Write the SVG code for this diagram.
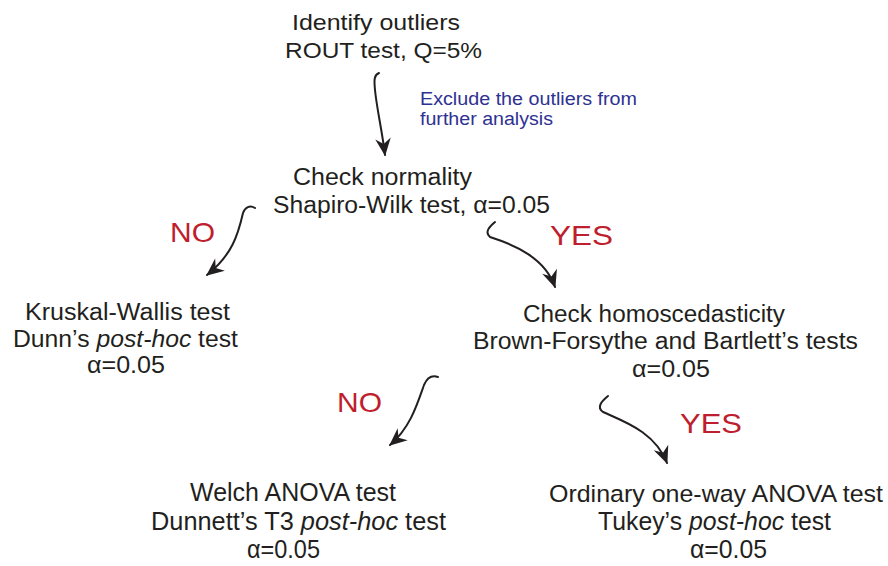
<svg xmlns="http://www.w3.org/2000/svg" width="888" height="566" viewBox="0 0 888 566">
<defs>
<style>
text{font-family:"Liberation Sans",Arial,sans-serif;fill:#231f20}
.n{font-size:22px}
.m{font-size:23px}
.b{font-size:26px}
.b2{font-size:24.5px}
.note{font-size:18px;fill:#2e3192}
.yn{font-size:28px;fill:#be1e2d}
.it{font-style:italic}
.c{fill:none;stroke:#231f20;stroke-width:2;stroke-linecap:round}
</style>
<marker id="ah" markerUnits="userSpaceOnUse" markerWidth="20" markerHeight="20" viewBox="-16 -8 18 16" refX="0" refY="0" orient="auto">
<path d="M1,0 L-15,-7 L-10,0 L-15,7 Z" fill="#231f20"/>
</marker>
</defs>
<rect width="888" height="566" fill="#fff"/>
<g id="connectors">
<path class="c" marker-end="url(#ah)" d="M379,73 C374,75 374,80 375,90 C377,110 382,130 385,155"/>
<path class="c" marker-end="url(#ah)" d="M255,208 C250,205 245,207 243,213 C238,235 232,255 207,275"/>
<path class="c" marker-end="url(#ah)" d="M495,222 C490,226 484,232 490,237 C515,245 545,258 555,287"/>
<path class="c" marker-end="url(#ah)" d="M438,377 C432,375 427,378 424,385 C417,405 410,428 390,445"/>
<path class="c" marker-end="url(#ah)" d="M608,396 C602,401 596,407 603,412 C625,422 655,432 667,463"/>
</g>
<g id="edge-labels">
<text class="note" x="420" y="105" textLength="217" lengthAdjust="spacingAndGlyphs">Exclude the outliers from</text>
<text class="note" x="420" y="125" textLength="133" lengthAdjust="spacingAndGlyphs">further analysis</text>
<text class="yn" x="170" y="242" textLength="45" lengthAdjust="spacingAndGlyphs">NO</text>
<text class="yn" x="550" y="245" textLength="63" lengthAdjust="spacingAndGlyphs">YES</text>
<text class="yn" x="337" y="412" textLength="45" lengthAdjust="spacingAndGlyphs">NO</text>
<text class="yn" x="680" y="433" textLength="62" lengthAdjust="spacingAndGlyphs">YES</text>
</g>
<g id="outliers">
<text class="n" x="292" y="30" textLength="168" lengthAdjust="spacingAndGlyphs">Identify outliers</text>
<text class="n" x="285" y="58" textLength="197" lengthAdjust="spacingAndGlyphs">ROUT test, Q=5%</text>
</g>
<g id="normality">
<text class="m" x="293" y="185" textLength="179" lengthAdjust="spacingAndGlyphs">Check normality</text>
<text class="m" x="273" y="213" textLength="277" lengthAdjust="spacingAndGlyphs">Shapiro-Wilk test, α=0.05</text>
</g>
<g id="kruskal">
<text class="m" x="25" y="320" textLength="205" lengthAdjust="spacingAndGlyphs">Kruskal-Wallis test</text>
<text class="m" x="13" y="347" textLength="225" lengthAdjust="spacingAndGlyphs">Dunn’s <tspan class="it">post-hoc</tspan> test</text>
<text class="m" x="87" y="373" textLength="78" lengthAdjust="spacingAndGlyphs">α=0.05</text>
</g>
<g id="homoscedasticity">
<text class="m" x="523" y="322" textLength="262" lengthAdjust="spacingAndGlyphs">Check homoscedasticity</text>
<text class="m" x="473" y="349" textLength="385" lengthAdjust="spacingAndGlyphs">Brown-Forsythe and Bartlett’s tests</text>
<text class="m" x="632" y="377" textLength="78" lengthAdjust="spacingAndGlyphs">α=0.05</text>
</g>
<g id="welch">
<text class="b" x="190" y="501" textLength="206" lengthAdjust="spacingAndGlyphs">Welch ANOVA test</text>
<text class="b" x="151" y="530" textLength="295" lengthAdjust="spacingAndGlyphs">Dunnett’s T3 <tspan class="it">post-hoc</tspan> test</text>
<text class="b" x="247" y="558" textLength="73" lengthAdjust="spacingAndGlyphs">α=0.05</text>
</g>
<g id="ordinary">
<text class="b2" x="549" y="502" textLength="334" lengthAdjust="spacingAndGlyphs">Ordinary one-way ANOVA test</text>
<text class="b" x="598" y="530" textLength="233" lengthAdjust="spacingAndGlyphs">Tukey’s <tspan class="it">post-hoc</tspan> test</text>
<text class="b" x="690" y="558" textLength="77" lengthAdjust="spacingAndGlyphs">α=0.05</text>
</g>
</svg>
